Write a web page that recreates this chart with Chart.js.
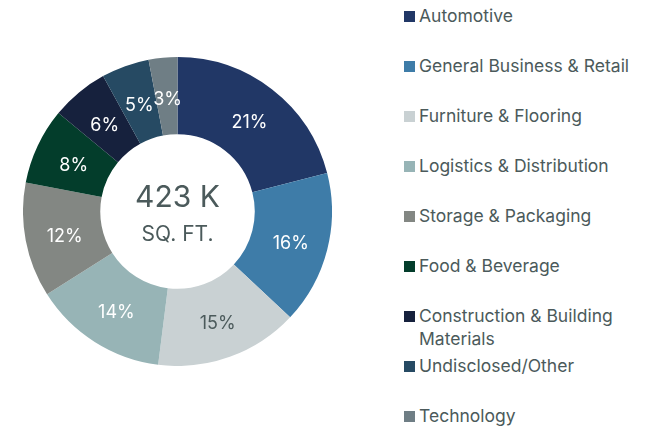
<!DOCTYPE html>
<html>
<head>
<meta charset="utf-8">
<script src="https://cdn.jsdelivr.net/npm/chart.js@4/dist/chart.umd.min.js"></script>
<style>
  body { margin: 0; background: #fff; font-family: "Inter", sans-serif; }
  #wrap { position: relative; width: 659px; height: 427px; overflow: hidden; }
  #chart-box { position: absolute; left: 23px; top: 57px; width: 309px; height: 309px; }
  #legend { position: absolute; left: 404px; top: 5px; }
  .item { position: absolute; left: 0; height: 50px; width: 255px; }
  .box { position: absolute; left: 0; top: 6px; width: 11px; height: 11px; }
  .txt { position: absolute; left: 15px; top: -1px; font-size: 17.5px; line-height: 23px; color: #4b5a5b; white-space: nowrap; }
</style>
</head>
<body>
<div id="wrap">
  <div id="chart-box"><canvas id="donut"></canvas></div>
  <div id="legend"></div>
</div>
<script>
// ===== DADOS =====
const categorias = [
  "Automotive", "General Business & Retail", "Furniture & Flooring",
  "Logistics & Distribution", "Storage & Packaging", "Food & Beverage",
  "Construction & Building<br>Materials", "Undisclosed/Other", "Technology"
];
const percentuais = [21, 16, 15, 14, 12, 8, 6, 5, 3];
const cores = ["#213766", "#3e7ca8", "#c9d1d3", "#97b4b6", "#838783", "#033d2b", "#16213d", "#264a63", "#6f7e85"];
const coresRotulo = ["#fff", "#fff", "#4b5a5b", "#fff", "#fff", "#fff", "#fff", "#fff", "#fff"];
const totalTexto = "423 K";
const unidadeTexto = "SQ. FT.";

// ===== LEGENDA =====
const legenda = document.getElementById("legend");
categorias.forEach((c, i) => {
  const div = document.createElement("div");
  div.className = "item";
  div.style.top = (i * 50) + "px";
  div.innerHTML = `<span class="box" style="background:${cores[i]}"></span><span class="txt">${c}</span>`;
  legenda.appendChild(div);
});

// ===== ROTULOS =====
const rotulosPlugin = {
  id: "rotulos",
  afterDatasetsDraw(chart) {
    const ctx = chart.ctx;
    const meta = chart.getDatasetMeta(0);
    ctx.save();
    ctx.font = "18px Inter";
    ctx.textAlign = "center";
    ctx.textBaseline = "middle";
    meta.data.forEach((arc, i) => {
      const p = arc.tooltipPosition();
      ctx.fillStyle = coresRotulo[i];
      ctx.fillText(percentuais[i] + "%", p.x + 1, p.y + 3);
    });
    const cx = (chart.chartArea.left + chart.chartArea.right) / 2;
    const cy = (chart.chartArea.top + chart.chartArea.bottom) / 2;
    ctx.fillStyle = "#4b5a5b";
    ctx.font = "30px Inter";
    ctx.fillText(totalTexto, cx, cy - 14);
    ctx.font = "21px Inter";
    ctx.fillText(unidadeTexto, cx, cy + 23);
    ctx.restore();
  }
};

new Chart(document.getElementById("donut"), {
  type: "doughnut",
  data: {
    labels: categorias,
    datasets: [{
      data: percentuais,
      backgroundColor: cores,
      borderWidth: 0,
    }]
  },
  options: {
    responsive: true,
    maintainAspectRatio: false,
    animation: false,
    cutout: "50%",
    plugins: { legend: { display: false }, tooltip: { enabled: false } },
  },
  plugins: [rotulosPlugin],
});
</script>
</body>
</html>
